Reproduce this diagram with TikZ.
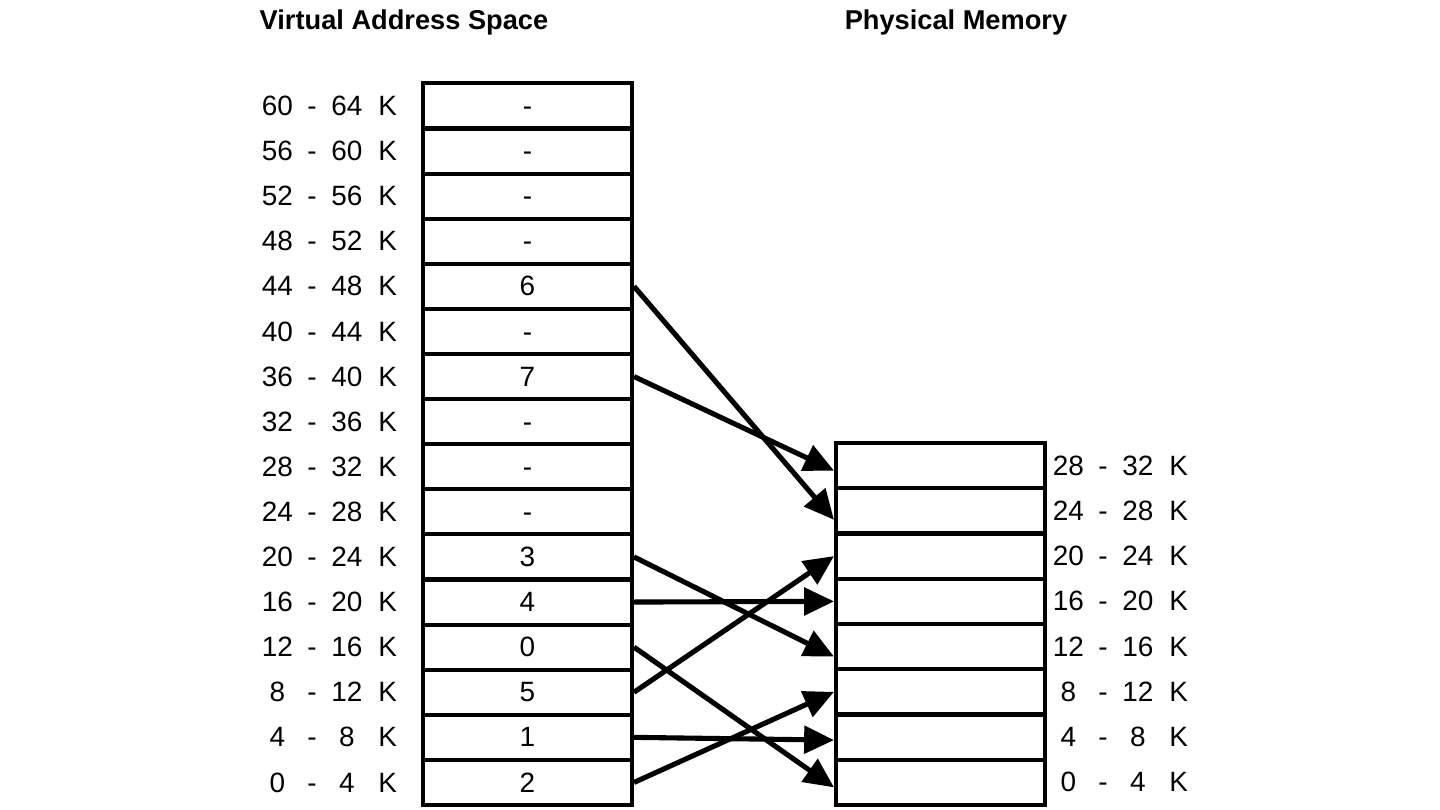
\documentclass[tikz,border=0pt]{standalone}
\usepackage{fontspec}
\setmainfont{Liberation Sans}
\usetikzlibrary{arrows.meta,calc}

% one range label, columns as in the table
\newcommand{\kbrange}[2]{\makebox[19.8pt]{#1}\makebox[19.8pt]{-}\makebox[19.8pt]{#2}\makebox[26.6pt]{K}}

\begin{document}
\begin{tikzpicture}[x=0.02cm, y=-0.02cm,
    cell/.style={draw, line width=2.3pt, minimum width=4.18cm, minimum height=0.9cm,
      inner sep=0pt, font=\fontsize{15.9}{18}\selectfont},
    rangelabel/.style={inner sep=0pt, font=\fontsize{15.9}{18}\selectfont},
    title/.style={inner sep=0pt, font=\fontsize{15.5}{18}\selectfont\bfseries},
    maparrow/.style={line width=2.9pt, -{Triangle[length=17pt,width=15.5pt]}}]

    \useasboundingbox (0,0) rectangle (1440,810);

    \def \vrow {45.1}
    \def \prow {45.25}

    % titles
    \node[title] (vtitle) at (404,22) {Virtual Address Space};
    \node[title] (ptitle) at (956,22) {Physical Memory};

    % virtual pages, bottom up
    \foreach \lab [count=\i from 0] in {2,1,5,0,4,3,-,-,-,7,-,6,-,-,-,-}
    {
      \pgfmathsetmacro\cy{805-\vrow*(\i+0.5)}
      \pgfmathtruncatemacro\lo{4*\i}
      \pgfmathtruncatemacro\hi{4*\i+4}
      \node[cell] (v\i) at (527.5,\cy) {\vphantom{0}\lab};
      \node[rangelabel] (vl\i) at (335.5,\cy) {\kbrange{\lo}{\hi}};
    }

    % physical frames, bottom up
    \foreach \i in {0,...,7}
    {
      \pgfmathsetmacro\cy{805-\prow*(\i+0.5)}
      \pgfmathtruncatemacro\lo{4*\i}
      \pgfmathtruncatemacro\hi{4*\i+4}
      \node[cell] (p\i) at (940.5,\cy) {};
      \node[rangelabel] (pl\i) at (1126.5,\cy) {\kbrange{\lo}{\hi}};
    }

    % page -> frame mapping (last value: tip offset)
    \foreach \v/\p/\dy in {0/2/0,1/1/3,2/5/0,3/0/5,4/4/0,5/3/10,9/7/5,11/6/9}
      \draw[maparrow] (v\v.east) -- ($(p\p.west)+(0,\dy)$);
  \end{tikzpicture}
\end{document}
